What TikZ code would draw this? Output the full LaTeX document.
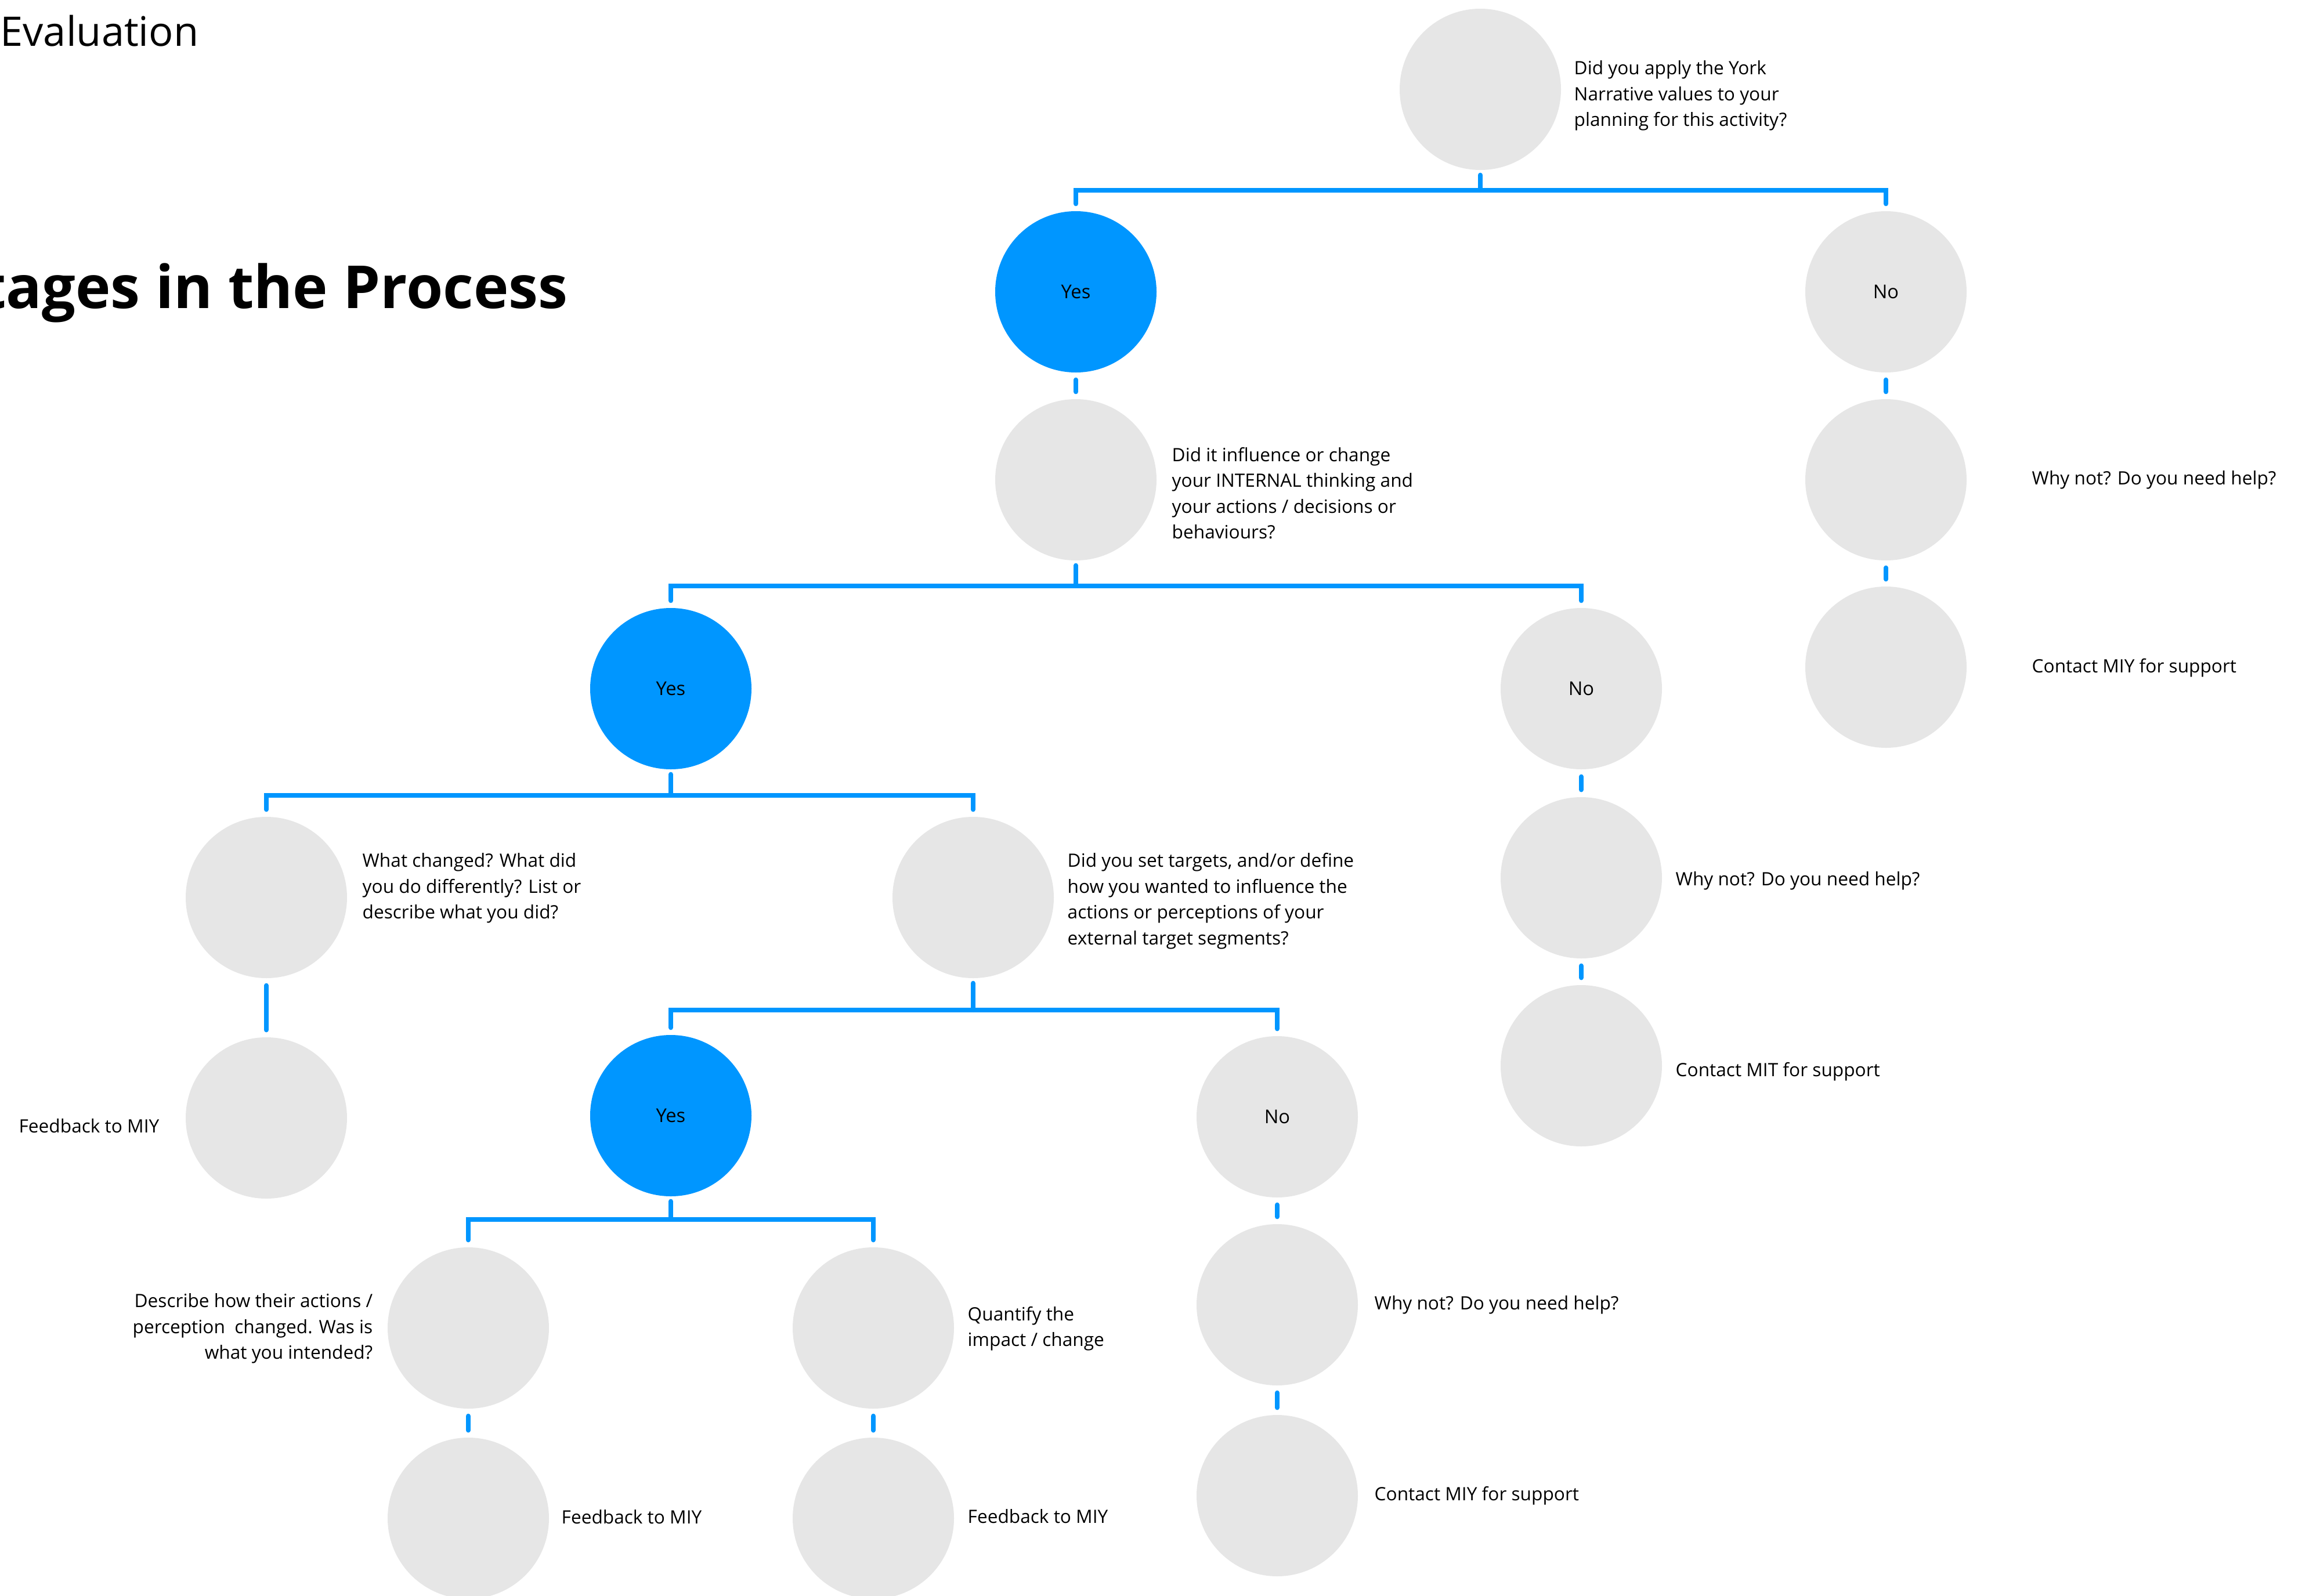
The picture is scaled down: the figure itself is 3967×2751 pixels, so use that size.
\documentclass[tikz,border=0pt]{standalone}
\usepackage{fontspec}
\setmainfont{Open Sans}
\usepackage{xcolor}
\usepackage{tikz}
\usetikzlibrary{arrows.meta}
\definecolor{miyblue}{RGB}{0,150,255}
\definecolor{miygrey}{RGB}{230,230,230}
\newcommand{\lblfont}{\fontsize{9}{12.66}\selectfont}

\begin{document}
\begin{tikzpicture}[x=0.1mm, y=-0.1mm,
    stage/.style={circle, fill=miygrey, minimum size=27.8mm, inner sep=0pt,
      font=\fontsize{9.3}{11}\selectfont},
    answer/.style={stage, fill=miyblue},
    lbl/.style={inner sep=0pt, anchor=west, align=left, font=\lblfont},
    lblr/.style={lbl, anchor=east, align=right},
    link/.style={draw=miyblue, line width=2.3pt, line cap=round, line join=miter}]
    \useasboundingbox (0,0) rectangle (3967,2751);
    \clip (0,0) rectangle (3967,2751);

    % headings (cut by the page edge)
    \node[inner sep=0pt, anchor=base west, font=\fontsize{20}{24}\selectfont]
    (eval) at (0,79) {Evaluation};
    \node[inner sep=0pt, anchor=base east, font=\fontsize{29.1}{35}\selectfont\bfseries]
    (stages) at (979,531) {Stages in the Process};

    % circles
    \node[stage]  (q1)        at (2551,154)  {};
    \node[answer] (yes1)      at (1854,503)  {Yes};
    \node[stage]  (no1)       at (3250,503)  {No};
    \node[stage]  (q2)        at (1854,827)  {};
    \node[stage]  (why1)      at (3250,827)  {};
    \node[stage]  (contact1)  at (3250,1150) {};
    \node[answer] (yes2)      at (1156,1187) {Yes};
    \node[stage]  (no2)       at (2725,1187) {No};
    \node[stage]  (why2)      at (2725,1513) {};
    \node[stage]  (contact2)  at (2725,1837) {};
    \node[stage]  (changed)   at (459,1547)  {};
    \node[stage]  (q3)        at (1677,1547) {};
    \node[stage]  (feedback1) at (459,1927)  {};
    \node[answer] (yes3)      at (1156,1923) {Yes};
    \node[stage]  (no3)       at (2201,1925) {No};
    \node[stage]  (describe)  at (807,2289)  {};
    \node[stage]  (quantify)  at (1505,2289) {};
    \node[stage]  (why3)      at (2201,2249) {};
    \node[stage]  (feedback2) at (807,2617)  {};
    \node[stage]  (feedback3) at (1505,2617) {};
    \node[stage]  (contact3)  at (2201,2578) {};

    % texts beside the circles
    \node[lbl] (q1-txt) at (2712,165)
    {Did you apply the York\\Narrative values to your\\planning for this activity?};
    \node[lbl] (q2-txt) at (2019,850)
    {Did it influence or change\\your INTERNAL thinking and\\your actions / decisions or\\behaviours?};
    \node[lbl] (why1-txt) at (3501,827) {Why not? Do you need help?};
    \node[lbl] (contact1-txt) at (3501,1151) {Contact MIY for support};
    \node[lbl] (why2-txt) at (2887,1518) {Why not? Do you need help?};
    \node[lbl] (contact2-txt) at (2887,1847) {Contact MIT for support};
    \node[lbl] (changed-txt) at (624,1531)
    {What changed? What did\\you do differently? List or\\describe what you did?};
    \node[lbl] (q3-txt) at (1839,1553)
    {Did you set targets, and/or define\\how you wanted to influence the\\actions or perceptions of your\\external target segments?};
    \node[lblr] (feedback1-txt) at (275,1941) {Feedback to MIY};
    \node[lblr] (describe-txt) at (643,2290)
    {Describe how their actions /\\perception\ \ changed. Was is\\what you intended?};
    \node[lbl] (quantify-txt) at (1667,2290) {Quantify the\\impact / change};
    \node[lbl] (feedback2-txt) at (967,2615) {Feedback to MIY};
    \node[lbl] (feedback3-txt) at (1667,2614) {Feedback to MIY};
    \node[lbl] (why3-txt) at (2368,2249) {Why not? Do you need help?};
    \node[lbl] (contact3-txt) at (2368,2578) {Contact MIY for support};

    % forks: parent / left child / right child / level of the bar
    \foreach \p/\l/\r/\y in {q1/yes1/no1/328, q2/yes2/no2/1010,
      yes2/changed/q3/1371, q3/yes3/no3/1741, yes3/describe/quantify/2102}{
      \draw[link, shorten <=0.8mm] (\p.south) -- (\p.south |- 0,\y);
      \draw[link, shorten <=1.2mm, shorten >=1.2mm]
      (\l.north) -- (\l.north |- 0,\y) -- (\r.north |- 0,\y) -- (\r.north);
    }

    % straight links
    \foreach \a/\b in {yes1/q2, no1/why1, why1/contact1, no2/why2, why2/contact2,
      changed/feedback1, describe/feedback2, quantify/feedback3, no3/why3, why3/contact3}{
      \draw[link, shorten <=1.2mm, shorten >=1.2mm] (\a) -- (\b);
    }
\end{tikzpicture}
\end{document}
